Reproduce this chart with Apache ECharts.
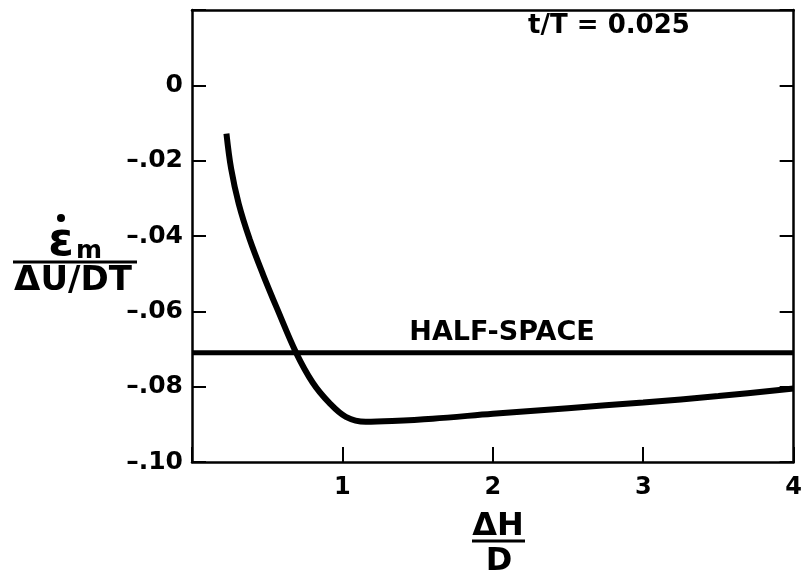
<!DOCTYPE html>
<html>
<head>
<meta charset="utf-8">
<script src="https://cdn.jsdelivr.net/npm/echarts@6/dist/echarts.min.js"></script>
<style>
html, body { margin: 0; background: #fff; }
#chart { width: 805px; height: 579px; }
</style>
</head>
<body>
<div id="chart"></div>
<script>
// strain rate curve
var depthRatio = [0.229, 0.26, 0.311, 0.383, 0.471, 0.568, 0.691, 0.802, 0.913, 1.023, 1.155, 1.33, 1.6, 2.0, 2.5, 3.0, 3.5, 4.0]
var strainRate = [-0.0128, -0.0221, -0.0315, -0.0408, -0.0501, -0.0595, -0.0709, -0.0789, -0.0843, -0.088, -0.0893, -0.0891, -0.0885, -0.0872, -0.0857, -0.0842, -0.0825, -0.0805]

// half-space reference level
var halfSpaceX = [0, 4]
var halfSpaceY = [-0.071, -0.071]

var xTickLabels = ['', '1', '2', '3', '4']
var yTickValues = [0, -0.02, -0.04, -0.06, -0.08, -0.1]
var yTickLabels = ['0', '\u2013.02', '\u2013.04', '\u2013.06', '\u2013.08', '\u2013.10']

var FONT = '"DejaVu Sans", sans-serif'

function zip(xs, ys) {
  return xs.map(function (x, i) { return [x, ys[i]] })
}

var axisLine = { show: true, onZero: false, lineStyle: { color: '#000', width: 2.5 } }

var myChart = echarts.init(document.getElementById('chart'))

myChart.setOption({
  animation: false,
  backgroundColor: '#fff',
  grid: { left: 192, right: 8, top: 10, bottom: 117, containLabel: false },
  xAxis: [
    {
      type: 'value',
      position: 'bottom',
      min: 0,
      max: 4,
      interval: 1,
      axisLine: axisLine,
      axisTick: { show: true, inside: true, length: 15, lineStyle: { color: '#000', width: 2 } },
      splitLine: { show: false },
      axisLabel: {
        margin: 14,
        color: '#000',
        fontFamily: FONT,
        fontWeight: 'bold',
        fontSize: 24,
        formatter: function (v) { return xTickLabels[Math.round(v)] || '' }
      }
    },
    {
      type: 'value',
      position: 'top',
      min: 0,
      max: 4,
      axisLine: axisLine,
      axisTick: { show: false },
      axisLabel: { show: false },
      splitLine: { show: false }
    }
  ],
  yAxis: [
    {
      type: 'value',
      position: 'left',
      min: -0.1,
      max: 0.02,
      interval: 0.02,
      axisLine: axisLine,
      axisTick: { show: true, inside: true, length: 14, lineStyle: { color: '#000', width: 2 } },
      splitLine: { show: false },
      axisLabel: {
        margin: 9,
        color: '#000',
        fontFamily: FONT,
        fontWeight: 'bold',
        fontSize: 25,
        formatter: function (v) {
          for (var i = 0; i < yTickValues.length; i++) {
            if (Math.abs(yTickValues[i] - v) < 1e-6) return yTickLabels[i]
          }
          return ''
        }
      }
    },
    {
      type: 'value',
      position: 'right',
      min: -0.1,
      max: 0.02,
      interval: 0.02,
      axisLine: axisLine,
      axisTick: { show: true, inside: true, length: 14, lineStyle: { color: '#000', width: 2 } },
      axisLabel: { show: false },
      splitLine: { show: false }
    }
  ],
  series: [
    {
      type: 'line',
      data: zip(halfSpaceX, halfSpaceY),
      showSymbol: false,
      lineStyle: { color: '#000', width: 5 }
    },
    {
      type: 'line',
      data: zip(depthRatio, strainRate),
      smooth: 0.35,
      showSymbol: false,
      lineStyle: { color: '#000', width: 6, cap: 'butt' }
    }
  ],
  graphic: [
    {
      type: 'text', x: 609, y: 26,
      style: { text: 't/T = 0.025', font: 'bold 26px ' + FONT, fill: '#000', align: 'center', verticalAlign: 'middle' }
    },
    {
      type: 'text', x: 502, y: 333,
      style: { text: 'HALF-SPACE', font: 'bold 27px ' + FONT, fill: '#000', align: 'center', verticalAlign: 'middle' }
    },
    // y-axis title: eps-dot_m over dU/DT
    {
      type: 'text', x: 61, y: 243,
      style: { text: '\u03b5', font: 'bold 46px ' + FONT, fill: '#000', align: 'center', verticalAlign: 'middle' }
    },
    {
      type: 'circle', shape: { cx: 61, cy: 218, r: 4 }, style: { fill: '#000' }
    },
    {
      type: 'text', x: 89, y: 251,
      style: { text: 'm', font: 'bold 25px ' + FONT, fill: '#000', align: 'center', verticalAlign: 'middle' }
    },
    {
      type: 'line', shape: { x1: 13, y1: 262, x2: 137, y2: 262 }, style: { stroke: '#000', lineWidth: 3 }
    },
    {
      type: 'text', x: 73, y: 281,
      style: { text: '\u0394U/DT', font: 'bold 34px ' + FONT, fill: '#000', align: 'center', verticalAlign: 'middle' }
    },
    // x-axis title: dH over D
    {
      type: 'text', x: 498, y: 527,
      style: { text: '\u0394H', font: 'bold 32px ' + FONT, fill: '#000', align: 'center', verticalAlign: 'middle' }
    },
    {
      type: 'line', shape: { x1: 472, y1: 541, x2: 525, y2: 541 }, style: { stroke: '#000', lineWidth: 3 }
    },
    {
      type: 'text', x: 499, y: 562,
      style: { text: 'D', font: 'bold 32px ' + FONT, fill: '#000', align: 'center', verticalAlign: 'middle' }
    }
  ]
})
</script>
</body>
</html>
